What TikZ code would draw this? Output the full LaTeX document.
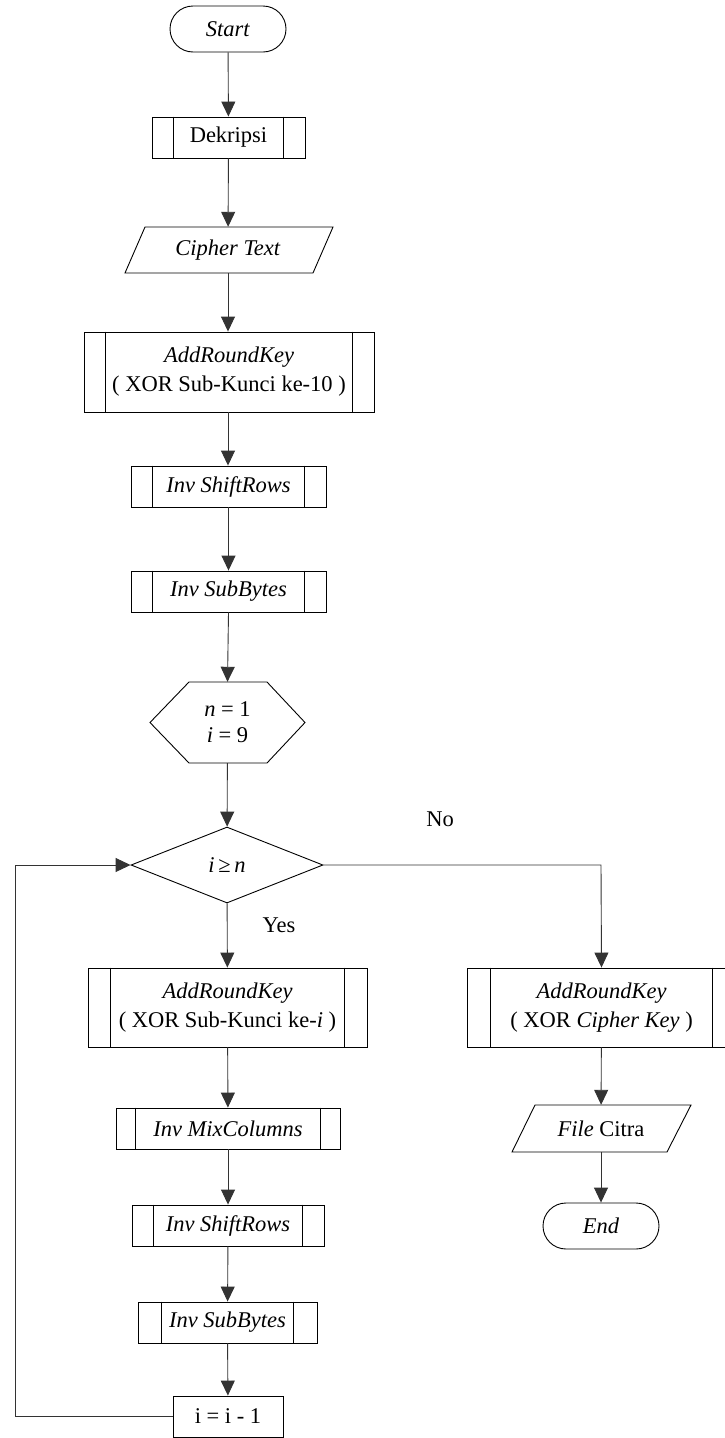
\documentclass[tikz,border=0pt]{standalone}
\usepackage{fontspec}
\setmainfont{Liberation Serif}
\usetikzlibrary{arrows.meta,shapes.geometric}
\tikzset{
  box/.style={draw=black, line width=0.9pt, rectangle, inner sep=0pt, align=center},
  term/.style={draw=black, line width=0.9pt, rectangle, rounded corners=23pt, inner sep=0pt,
    minimum width=116pt, minimum height=46pt},
  decis/.style={draw=black, line width=0.9pt, diamond, inner sep=0pt,
    minimum width=192pt, minimum height=76pt},
  ghost/.style={inner sep=0pt, align=center},
  shp/.style={draw=black, line width=0.9pt},
  flow/.style={draw=black!80, line width=0.9pt, -{Triangle[width=14pt,length=15pt]}},
  plain/.style={draw=black!80, line width=0.9pt},
  lbl/.style={inner sep=0pt}
}
\newcommand{\subp}[7]{%
  \node[box, minimum width=#4pt, minimum height=#5pt] (#1) at (#2,#3) {#7};
  \draw[shp] ([xshift=#6pt]#1.north west) -- ([xshift=#6pt]#1.south west);
  \draw[shp] ([xshift=-#6pt]#1.north east) -- ([xshift=-#6pt]#1.south east);
}
\begin{document}
\begin{tikzpicture}[x=1pt,y=-1pt,font=\fontsize{22.5}{29}\selectfont]
\useasboundingbox (0,0) rectangle (725,1438);
\clip (0,0) rectangle (725,1438);

% Start
\node[term] (start) at (228,29) {\textit{Start}};
% Dekripsi
\subp{dek}{228.5}{137.5}{153}{41}{22}{Dekripsi}
% Cipher Text parallelogram
\draw[shp] (145,227) -- (333,227) -- (313,273) -- (125,273) -- cycle;
\node[ghost, minimum width=170pt, minimum height=46pt] (ct) at (228,250) {\textit{Cipher Text}};
% AddRoundKey 1
\subp{arka}{229}{372}{290}{80}{22}{\textit{AddRoundKey}\\( XOR Sub-Kunci ke-10 )}
% Inv ShiftRows 1
\subp{isra}{228.5}{486.5}{195}{41}{22}{\textit{Inv ShiftRows}}
% Inv SubBytes 1
\subp{isba}{228.5}{591.5}{195}{41}{22}{\textit{Inv SubBytes}}
% Hexagon
\draw[shp] (150,722.5) -- (189,682) -- (267,682) -- (305,722.5) -- (267,763) -- (189,763) -- cycle;
\node[ghost, minimum width=155pt, minimum height=81pt, font=\fontsize{22.5}{26}\selectfont] (hex) at (227.5,722.5) {\textit{n} = 1\\\textit{i} = 9};
% Decision
\node[decis] (dec) at (227,865) {\textit{i}\,≥\,\textit{n}};
\node[lbl] (nolbl) at (440,819) {No};
\node[lbl] (yeslbl) at (279,925) {Yes};
% AddRoundKey 2 (left)
\subp{arkb}{227.5}{1007.5}{279}{79}{23}{\textit{AddRoundKey}\\( XOR Sub-Kunci ke-\textit{i} )}
% AddRoundKey 3 (right)
\subp{arkc}{601.5}{1007.5}{269}{79}{24}{\textit{AddRoundKey}\\( XOR \textit{Cipher Key} )}
% File Citra
\draw[shp] (535,1105) -- (691,1105) -- (667,1152) -- (512,1152) -- cycle;
\node[ghost, minimum width=150pt, minimum height=47pt] (file) at (601,1128.5) {\textit{File} Citra};
% End
\node[term] (end) at (601,1226) {\textit{End}};
% Inv MixColumns
\subp{imc}{228}{1128.5}{224}{41}{20}{\textit{Inv MixColumns}}
% Inv ShiftRows 2
\subp{isrb}{228}{1225.5}{192}{41}{22}{\textit{Inv ShiftRows}}
% Inv SubBytes 2
\subp{isbb}{227.5}{1322.5}{179}{41}{24}{\textit{Inv SubBytes}}
% i = i - 1
\node[box, minimum width=110pt, minimum height=41pt] (decr) at (228,1416.5) {i = i - 1};

% connectors
\draw[flow] (start) -- (dek);
\draw[flow] (dek) -- (ct);
\draw[flow] (ct) -- (arka.north -| ct.south);
\draw[flow] (arka.south -| ct.south) -- (isra.north -| ct.south);
\draw[flow] (isra) -- (isba);
\draw[flow] (isba.south) -- (hex.north);
\draw[flow] (hex) -- (dec);
\draw[flow] (dec) -- (arkb);
\draw[flow] (arkb) -- (imc);
\draw[flow] (imc) -- (isrb);
\draw[flow] (isrb) -- (isbb);
\draw[flow] (isbb) -- (decr);
\coordinate (lp1) at (15,1416.5);
\coordinate (lp2) at (15,865);
\draw[flow] (decr.west) -- (lp1) -- (lp2) -- (dec.west);
\coordinate (nc) at (601,865);
\draw[flow] (dec.east) -- (nc) -- (arkc.north);
\draw[flow] (arkc) -- (file);
\draw[flow] (file) -- (end);
\end{tikzpicture}
\end{document}
